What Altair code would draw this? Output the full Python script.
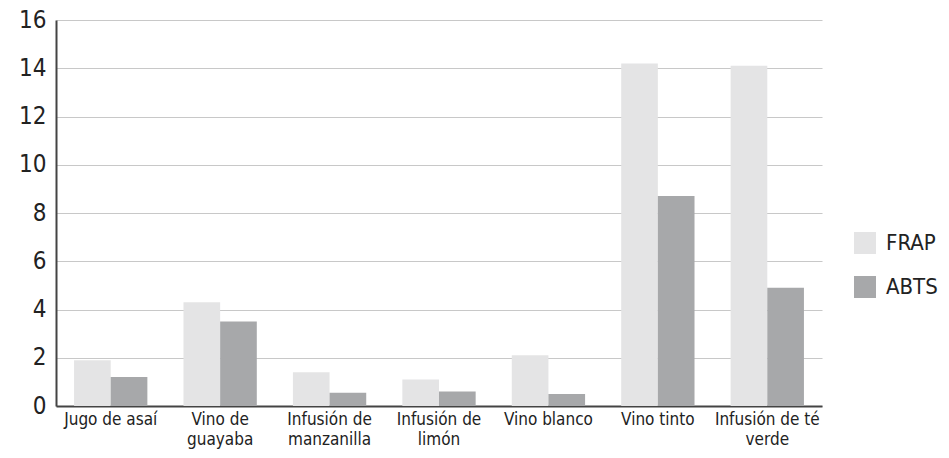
import altair as alt
import pandas as pd

categories = ["Jugo de asaí", "Vino de|guayaba", "Infusión de|manzanilla", "Infusión de|limón",
              "Vino blanco", "Vino tinto", "Infusión de té|verde"]
frap = [1.9, 4.3, 1.4, 1.1, 2.1, 14.2, 14.1]
abts = [1.2, 3.5, 0.55, 0.6, 0.5, 8.7, 4.9]
series = ["FRAP", "ABTS"]
y_ticks = [0, 2, 4, 6, 8, 10, 12, 14, 16]

rows = []
for c, f, a in zip(categories, frap, abts):
    rows.append({"cat": c, "serie": "FRAP", "valor": f})
    rows.append({"cat": c, "serie": "ABTS", "valor": a})
df = pd.DataFrame(rows)

FONT = "Liberation Sans Narrow, DejaVu Sans Condensed, Liberation Sans, sans-serif"

chart = alt.Chart(df).mark_bar().encode(
    x=alt.X("cat:N", sort=categories, title=None,
            scale=alt.Scale(paddingInner=0.33, paddingOuter=0.165),
            axis=alt.Axis(labelAngle=0, labelExpr="split(datum.label, '|')",
                          labelFontSize=17, labelFont=FONT, labelColor="#222",
                          labelLineHeight=20, labelPadding=5, labelBaseline="top",
                          ticks=False, domainColor="#444", domainWidth=2,
                          grid=False, labelLimit=200, labelOverlap=False)),
    xOffset=alt.XOffset("serie:N", sort=series),
    y=alt.Y("valor:Q", title=None,
            scale=alt.Scale(domain=[0, 16], nice=False),
            axis=alt.Axis(values=y_ticks, labelFontSize=24, labelFont=FONT, labelColor="#222",
                          labelPadding=10, ticks=False, domainColor="#444", domainWidth=2,
                          gridColor="#c8c8c8", gridWidth=1.2)),
    color=alt.Color("serie:N", sort=series, title=None,
                    scale=alt.Scale(domain=series, range=["#e4e4e5", "#a7a8aa"]),
                    legend=alt.Legend(orient="none", legendX=798, legendY=212,
                                      symbolType="square", symbolSize=484,
                                      symbolStrokeWidth=0, rowPadding=22,
                                      labelFontSize=22, labelFont=FONT, labelColor="#222",
                                      labelOffset=10)),
).properties(
    width=766, height=386,
    autosize=alt.AutoSizeParams(type="none"),
    padding={"left": 56, "top": 20, "right": 127, "bottom": 52},
).configure_view(stroke=None)

chart.save("out.html", embed_options={"renderer": "svg", "actions": False})
